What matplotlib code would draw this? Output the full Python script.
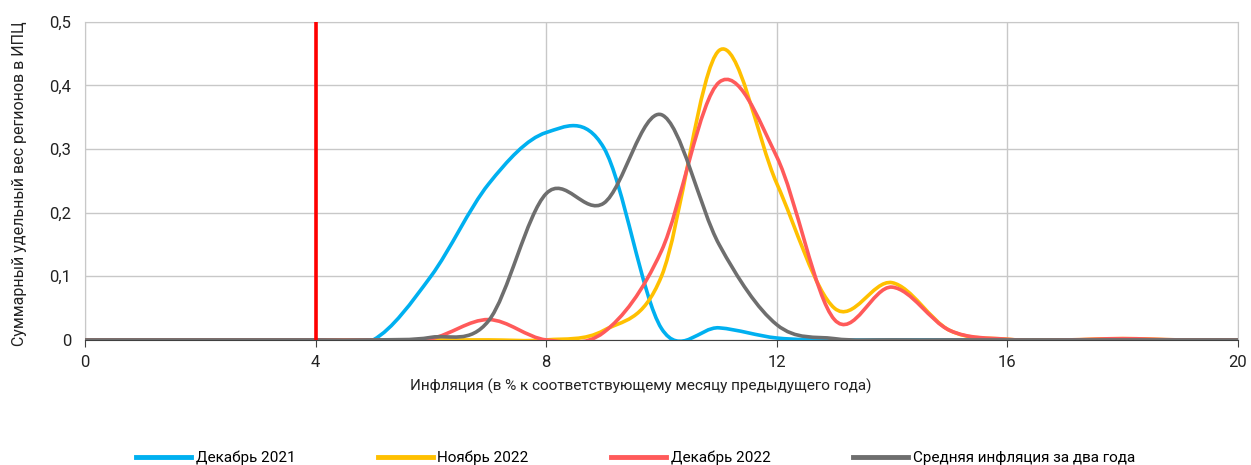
import matplotlib
matplotlib.use('Agg')
import matplotlib.pyplot as plt
from matplotlib.path import Path
from matplotlib.patches import PathPatch
from matplotlib.lines import Line2D
import numpy as np

plt.rcParams['font.family'] = ['Roboto', 'DejaVu Sans']

# inflation, % (x axis points)
x = list(range(0, 21))

dec_2021 = [0, 0, 0, 0, 0, 0, 0.10, 0.245, 0.326, 0.302, 0.018, 0.019, 0.003, 0, 0, 0, 0, 0, 0, 0, 0]
nov_2022 = [0, 0, 0, 0, 0, 0, 0, 0, 0, 0.015, 0.10, 0.455, 0.246, 0.05, 0.09, 0.015, 0.001, 0, 0.002, 0, 0]
dec_2022 = [0, 0, 0, 0, 0, 0, 0.002, 0.032, 0, 0.012, 0.14, 0.405, 0.288, 0.032, 0.083, 0.015, 0.001, 0, 0.002, 0, 0]
avg_2y = [0, 0, 0, 0, 0, 0, 0.004, 0.03, 0.23, 0.215, 0.354, 0.15, 0.024, 0.002, 0, 0, 0, 0, 0, 0, 0]

names = ["Декабрь 2021", "Ноябрь 2022", "Декабрь 2022", "Средняя инфляция за два года"]
colors = ["#00B0F0", "#FFC000", "#FF5A5A", "#6E6E6E"]
target = 4


def smooth_path(xs, ys):
    # Excel-like smoothed line: Catmull-Rom segments as cubic Beziers
    pts = np.column_stack([xs, ys]).astype(float)
    n = len(pts)
    verts = [pts[0]]
    codes = [Path.MOVETO]
    for i in range(n - 1):
        p0 = pts[i - 1] if i > 0 else pts[i]
        p1 = pts[i]
        p2 = pts[i + 1]
        p3 = pts[i + 2] if i + 2 < n else pts[i + 1]
        c1 = p1 + (p2 - p0) / 6
        c2 = p2 - (p3 - p1) / 6
        verts += [c1, c2, p2]
        codes += [Path.CURVE4] * 3
    return Path(verts, codes)


fig = plt.figure(figsize=(12.51, 4.65), dpi=100)
ax = fig.add_axes([0.068, 0.269, 0.9215, 0.684])

series = [dec_2021, nov_2022, dec_2022, avg_2y]
for vals, c in zip(series, colors):
    ax.add_patch(PathPatch(smooth_path(x, vals), facecolor='none', edgecolor=c,
                           lw=2.6, capstyle='round', joinstyle='round', zorder=3))

ax.axvline(target, color='#FF0000', lw=2.6, zorder=4)

ax.set_xlim(0, 20)
ax.set_ylim(0, 0.5)
ax.set_xticks([0, 4, 8, 12, 16, 20])
ax.set_yticks([0, 0.1, 0.2, 0.3, 0.4, 0.5])
ax.set_yticklabels(["0", "0,1", "0,2", "0,3", "0,4", "0,5"])
ax.grid(True, color='#C8C8C8', lw=1)
ax.set_axisbelow(True)
for s in ['top', 'right', 'left']:
    ax.spines[s].set_color('#C8C8C8')
ax.spines['bottom'].set_color('#404040')
ax.tick_params(axis='y', length=0, pad=10, labelsize=12, colors='#222222')
ax.tick_params(axis='x', length=5, color='#404040', pad=6, labelsize=12, labelcolor='#222222')

ax.set_xlabel("Инфляция (в % к соответствующему месяцу предыдущего года)", fontsize=11,
              color='#222222')
ax.xaxis.set_label_coords(0.482, -0.123)
ax.set_ylabel("Суммарный удельный вес регионов в ИПЦ", fontsize=11.5, color='#222222')
ax.yaxis.set_label_coords(-0.05, 0.49)

handles = [Line2D([], [], color=c, lw=3.5) for c in colors]
fig.legend(handles, names, loc='lower center', bbox_to_anchor=(0.508, -0.03), ncol=4,
           frameon=False, fontsize=11, handlelength=3.6, handletextpad=0.3, columnspacing=5.4)

fig.savefig('out.png', dpi=100)
